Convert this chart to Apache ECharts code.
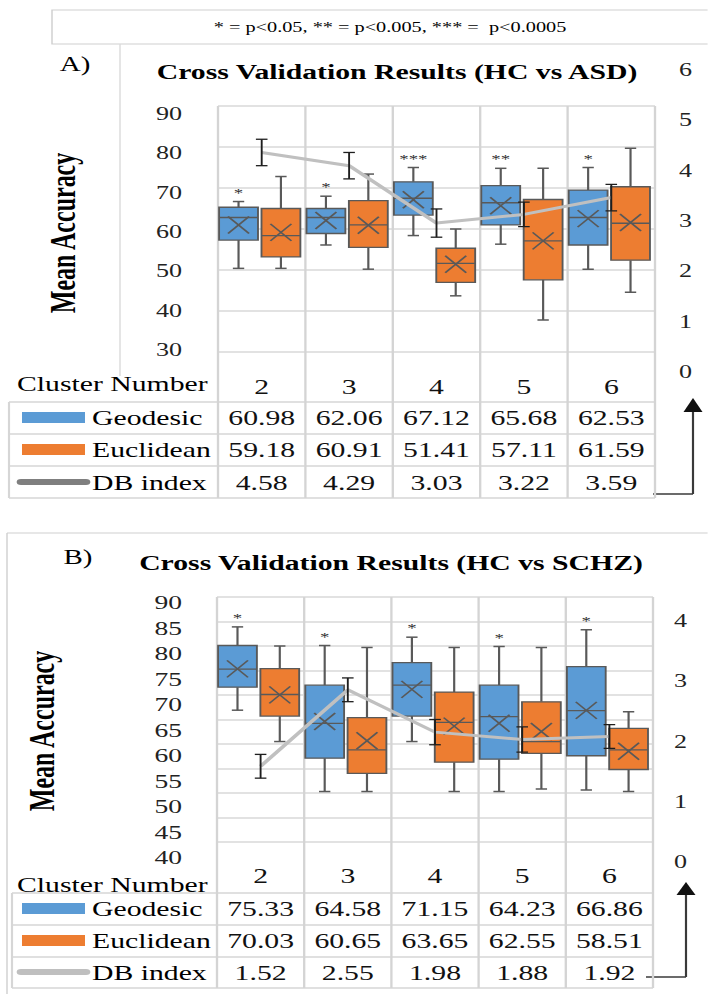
<!DOCTYPE html>
<html>
<head>
<meta charset="utf-8">
<script src="https://cdn.jsdelivr.net/npm/echarts@6/dist/echarts.min.js"></script>
<style>
  html, body { margin: 0; padding: 0; background: #fff; overflow: hidden; }
  #chart { position: absolute; left: 0; top: 0; height: 994px; transform-origin: 0 0; }
</style>
</head>
<body>
<div id="chart"></div>
<script>
// ---------- data ----------
const clusters = ['2', '3', '4', '5', '6'];

// HC vs ASD
const asdGeoMean = [60.98, 62.06, 67.12, 65.68, 62.53];
const asdEucMean = [59.18, 60.91, 51.41, 57.11, 61.59];
const asdDB = [4.58, 4.29, 3.03, 3.22, 3.59];
const asdDBErr = [0.29, 0.29, 0.31, 0.27, 0.29];
// box statistics: [min, q1, median, q3, max]
const asdGeoBox = [
  [50.4, 57.3, 62.8, 65.3, 66.7],
  [56.1, 58.9, 62.8, 65.0, 68.0],
  [58.4, 63.4, 67.5, 71.5, 75.0],
  [56.3, 61.0, 66.4, 70.6, 74.8],
  [50.2, 56.1, 62.8, 69.5, 75.0]
];
const asdEucBox = [
  [50.4, 53.2, 58.4, 65.0, 72.8],
  [50.2, 55.5, 61.0, 66.9, 73.4],
  [43.7, 47.0, 51.6, 55.3, 60.0],
  [37.8, 47.6, 57.1, 67.2, 74.8],
  [44.6, 52.4, 61.4, 70.3, 79.7]
];
const asdSig = ['*', '*', '***', '**', '*'];
const asdAccTicks = { min: 30, max: 90, step: 10 };
const asdDBTicks = { min: 0, max: 6, step: 1 };

// HC vs SCHZ
const schzGeoMean = [75.33, 64.58, 71.15, 64.23, 66.86];
const schzEucMean = [70.03, 60.65, 63.65, 62.55, 58.51];
const schzDB = [1.52, 2.55, 1.98, 1.88, 1.92];
const schzDBErr = [0.16, 0.16, 0.17, 0.17, 0.16];
const schzGeoBox = [
  [66.9, 71.6, 75.3, 80.1, 83.9],
  [50.3, 57.1, 64.2, 72.0, 80.1],
  [60.5, 65.7, 72.0, 76.6, 81.8],
  [50.3, 56.9, 65.6, 72.0, 79.9],
  [50.6, 57.6, 66.8, 75.8, 83.3]
];
const schzEucBox = [
  [60.5, 65.7, 70.1, 75.4, 80.0],
  [50.3, 54.0, 58.8, 65.4, 79.7],
  [50.3, 56.3, 64.4, 70.6, 79.7],
  [50.8, 58.1, 60.5, 68.6, 79.7],
  [50.3, 54.8, 58.8, 63.2, 66.6]
];
const schzSig = ['*', '*', '*', '*', '*'];
const schzAccTicks = { min: 40, max: 90, step: 5 };
const schzDBTicks = { min: 0, max: 4, step: 1 };

const rowNames = ['Geodesic', 'Euclidean', 'DB index'];

// ---------- look ----------
const S = 1.45;                // the figure is drawn with a horizontal stretch
const X = v => v / S;          // layout x (final pixels) -> chart units
const SERIF = '"Liberation Serif","Times New Roman",serif';
const BLUE = '#5b9bd5';
const ORANGE = '#ed7d31';
const INK = '#595959';
const GRID = '#d9d9d9';

const dom = document.getElementById('chart');
dom.style.width = X(708) + 'px';
dom.style.transform = 'scaleX(' + S + ')';

const panels = [
  {
    tag: 'A)', title: 'Cross Validation Results (HC vs ASD)',
    geoBox: asdGeoBox, eucBox: asdEucBox, geoMean: asdGeoMean, eucMean: asdEucMean,
    db: asdDB, dbErr: asdDBErr, sig: asdSig, acc: asdAccTicks, dbTicks: asdDBTicks,
    plot: { l: 218, r: 655, t: 106, b: 352 }, dbScale: [0.2, 5.6],
    accLab: { x: 182, t: 114, b: 350, size: 18 },
    dbLab: { x: 679, t: 70, b: 372, size: 18 },
    catMargin: 25, tagPos: [75, 64], titlePos: [397, 72], yNamePos: [63, 233],
    headerY: 384, rows: [418, 450, 483], lines: [402, 434, 466, 498], tableL: 9,
    dbSwatch: '#7f7f7f',
    arrow: { x: 693, tip: 398, base: 412, bottom: 494, from: 653 }
  },
  {
    tag: 'B)', title: 'Cross Validation Results (HC vs SCHZ)',
    geoBox: schzGeoBox, eucBox: schzEucBox, geoMean: schzGeoMean, eucMean: schzEucMean,
    db: schzDB, dbErr: schzDBErr, sig: schzSig, acc: schzAccTicks, dbTicks: schzDBTicks,
    plot: { l: 217, r: 653, t: 597, b: 842 }, dbScale: [0.5, 3.8],
    accLab: { x: 182, t: 603, b: 858, size: 19 },
    dbLab: { x: 674, t: 621, b: 862, size: 18 },
    catMargin: 24, tagPos: [78, 557], titlePos: [391, 563], yNamePos: [42, 731],
    headerY: 885, rows: [909, 941, 973], lines: [893, 925, 957, 988], tableL: 12,
    dbSwatch: '#bfbfbf',
    arrow: { x: 686, tip: 882, base: 895, bottom: 977, from: 646 }
  }
];

// ---------- renderers ----------
function boxRenderer(offset, fill, sig) {
  return function (params, api) {
    const i = api.value(0);
    const band = api.size([1, 0])[0];
    const cx = api.coord([i, api.value(3)])[0] + offset * band;
    const w = 0.445 * band;
    const cap = 0.065 * band;
    const y = k => api.coord([i, api.value(k)])[1];
    const yMin = y(1), yQ1 = y(2), yMed = y(3), yQ3 = y(4), yMax = y(5), yMean = y(6);
    const seg = (x1, y1, x2, y2, lw) => ({
      type: 'line', shape: { x1, y1, x2, y2 }, style: { stroke: INK, lineWidth: lw || 1.5 }
    });
    const xh = 0.27 * w, yh = 8.5;
    const children = [
      seg(cx, yQ3, cx, yMax), seg(cx - cap, yMax, cx + cap, yMax),
      seg(cx, yQ1, cx, yMin), seg(cx - cap, yMin, cx + cap, yMin),
      { type: 'rect', shape: { x: cx - w / 2, y: yQ3, width: w, height: yQ1 - yQ3 },
        style: { fill, stroke: INK, lineWidth: 1.3 } },
      seg(cx - w / 2, yMed, cx + w / 2, yMed, 1.3),
      seg(cx - xh, yMean - yh, cx + xh, yMean + yh, 1.4),
      seg(cx - xh, yMean + yh, cx + xh, yMean - yh, 1.4)
    ];
    if (sig) {
      children.push({
        type: 'text', x: cx, y: yMax - 9,
        style: { text: sig[params.dataIndex], fontSize: 13, fontFamily: SERIF, fill: '#333',
                 align: 'center', verticalAlign: 'middle', textAlign: 'center', textVerticalAlign: 'middle' }
      });
    }
    return { type: 'group', children };
  };
}

function errRenderer(params, api) {
  const i = api.value(0), v = api.value(1), e = api.value(2);
  const cx = api.coord([i, v])[0];
  const yHi = api.coord([i, v + e])[1];
  const yLo = api.coord([i, v - e])[1];
  const c = 4;
  const st = { stroke: '#1e1e1e', lineWidth: 1.3 };
  return {
    type: 'group',
    children: [
      { type: 'line', shape: { x1: cx, y1: yHi, x2: cx, y2: yLo }, style: st },
      { type: 'line', shape: { x1: cx - c, y1: yHi, x2: cx + c, y2: yHi }, style: st },
      { type: 'line', shape: { x1: cx - c, y1: yLo, x2: cx + c, y2: yLo }, style: st }
    ]
  };
}

function tableRenderer(P) {
  return function (params, api) {
    const i = api.value(0);
    const band = api.size([1, 0])[0];
    const cx = api.coord([i, P.acc.min])[0];
    const yTop = api.coord([i, P.acc.max])[1];
    const children = [];
    [api.value(1), api.value(2), api.value(3)].forEach((v, k) => {
      children.push({
        type: 'text', x: cx, y: P.rows[k],
        style: { text: v.toFixed(2), fontSize: 20.5, fontFamily: SERIF, fill: '#111',
                 align: 'center', verticalAlign: 'middle', textAlign: 'center', textVerticalAlign: 'middle' }
      });
    });
    const xs = i === 0 ? [cx - band / 2, cx + band / 2] : [cx + band / 2];
    xs.forEach(x => children.push({
      type: 'line', shape: { x1: x, y1: yTop, x2: x, y2: P.lines[3] },
      style: { stroke: '#d4d4d4', lineWidth: 1.6 }
    }));
    return { type: 'group', children };
  };
}

// ---------- option ----------
const option = {
  animation: false,
  backgroundColor: '#fff',
  textStyle: { fontFamily: SERIF },
  grid: [], xAxis: [], yAxis: [], series: [], graphic: []
};

const textEl = (x, y, text, size, extra) => ({
  type: 'text', x: X(x), y, silent: true,
  style: Object.assign({ text, fontSize: size, fontFamily: SERIF, fill: '#000',
    align: 'center', verticalAlign: 'middle', textAlign: 'center', textVerticalAlign: 'middle' }, extra || {})
});
const lineEl = (x1, y1, x2, y2, stroke, lw, cap) => ({
  type: 'line', silent: true,
  shape: { x1: X(x1), y1, x2: X(x2), y2 },
  style: { stroke, lineWidth: lw, lineCap: cap || 'butt' }
});

// note box and panel frames
option.graphic.push(
  { type: 'rect', silent: true, shape: { x: X(52), y: 10, width: X(670), height: 34 },
    style: { fill: 'none', stroke: '#cfcfcf', lineWidth: 1 } },
  textEl(390, 27, '* = p<0.05, ** = p<0.005, *** =  p<0.0005', 14),
  lineEl(120, 44, 120, 376, '#dcdcdc', 1),
  lineEl(7, 533, 712, 533, '#d0d0d0', 1),
  lineEl(7, 533, 7, 994, '#d0d0d0', 1)
);

panels.forEach((P, n) => {
  const g = n * 3, y = n * 4;
  const p = P.plot;
  option.grid.push(
    { left: X(p.l), width: X(p.r - p.l), top: p.t, height: p.b - p.t },
    { left: X(P.accLab.x + 8), width: X(6), top: P.accLab.t, height: P.accLab.b - P.accLab.t },
    { left: X(P.dbLab.x - 15), width: X(6), top: P.dbLab.t, height: P.dbLab.b - P.dbLab.t }
  );
  option.xAxis.push(
    { gridIndex: g, type: 'category', data: clusters,
      axisLine: { show: false }, axisTick: { show: false }, splitLine: { show: false },
      axisLabel: { interval: 0, margin: P.catMargin, fontSize: 20.5, fontFamily: SERIF, color: '#111' } },
    { gridIndex: g + 1, type: 'value', show: false },
    { gridIndex: g + 2, type: 'value', show: false }
  );
  const labelAxis = (gi, pos, t, lab, margin) => ({
    gridIndex: gi, type: 'value', position: pos, min: t.min, max: t.max, interval: t.step,
    axisLine: { show: false }, axisTick: { show: false }, splitLine: { show: false },
    axisLabel: { margin, fontSize: lab.size, fontFamily: SERIF, color: '#222',
                 showMinLabel: true, showMaxLabel: true }
  });
  option.yAxis.push(
    { gridIndex: g, type: 'value', min: P.acc.min, max: P.acc.max, interval: P.acc.step,
      axisLabel: { show: false }, axisLine: { show: false }, axisTick: { show: false },
      splitLine: { lineStyle: { color: GRID, width: 1.5 } } },
    { gridIndex: g, type: 'value', position: 'right', min: P.dbScale[0], max: P.dbScale[1],
      show: false, splitLine: { show: false } },
    labelAxis(g + 1, 'left', P.acc, P.accLab, X(8)),
    labelAxis(g + 2, 'right', P.dbTicks, P.dbLab, X(9))
  );

  option.series.push(
    { type: 'custom', name: 'Geodesic', xAxisIndex: g, yAxisIndex: y, z: 2,
      data: P.geoBox.map((b, i) => [i, ...b, P.geoMean[i]]),
      encode: { x: 0, y: [1, 2, 3, 4, 5, 6] },
      renderItem: boxRenderer(-0.265, BLUE, P.sig) },
    { type: 'custom', name: 'Euclidean', xAxisIndex: g, yAxisIndex: y, z: 2,
      data: P.eucBox.map((b, i) => [i, ...b, P.eucMean[i]]),
      encode: { x: 0, y: [1, 2, 3, 4, 5, 6] },
      renderItem: boxRenderer(0.22, ORANGE, null) },
    { type: 'custom', name: 'table', xAxisIndex: g, yAxisIndex: y, z: 1, silent: true,
      data: clusters.map((c, i) => [i, P.geoMean[i], P.eucMean[i], P.db[i]]),
      encode: { x: 0, y: 1 },
      renderItem: tableRenderer(P) },
    { type: 'line', name: 'DB index', xAxisIndex: g, yAxisIndex: y + 1, z: 3,
      data: P.db, symbol: 'none', lineStyle: { color: '#c0c0c0', width: 3 } },
    { type: 'custom', name: 'DB error', xAxisIndex: g, yAxisIndex: y + 1, z: 4,
      data: P.db.map((v, i) => [i, v, P.dbErr[i]]),
      encode: { x: 0, y: 1 },
      renderItem: errRenderer }
  );

  // panel texts
  option.graphic.push(
    textEl(P.tagPos[0], P.tagPos[1], P.tag, 20),
    textEl(P.titlePos[0], P.titlePos[1], P.title, 20.5, { fontWeight: 'bold' }),
    Object.assign(textEl(P.yNamePos[0], P.yNamePos[1], 'Mean Accuracy', 24, { fontWeight: 'bold' }),
                  { rotation: Math.PI / 2 }),
    textEl(17, P.headerY, 'Cluster Number', 20.5, { align: 'left', textAlign: 'left' })
  );
  // table frame
  P.lines.forEach(ly => option.graphic.push(lineEl(P.tableL, ly, p.r, ly, '#d6d6d6', 1.5)));
  option.graphic.push(lineEl(P.tableL, P.lines[0], P.tableL, P.lines[3], '#d6d6d6', 1.5));
  // row legend keys and names
  rowNames.forEach((name, k) => {
    option.graphic.push(textEl(92, P.rows[k], name, 20.5, { align: 'left', textAlign: 'left' }));
  });
  option.graphic.push(
    { type: 'rect', silent: true, shape: { x: X(22), y: P.rows[0] - 6, width: X(63), height: 11 },
      style: { fill: BLUE } },
    { type: 'rect', silent: true, shape: { x: X(22), y: P.rows[1] - 6, width: X(63), height: 11 },
      style: { fill: ORANGE } },
    lineEl(21, P.rows[2] - 1, 86, P.rows[2] - 1, P.dbSwatch, 6, 'round')
  );
  // arrow pointing to the DB index axis
  const a = P.arrow;
  option.graphic.push(
    lineEl(a.from, a.bottom, a.x, a.bottom, '#3a3a3a', 1.5),
    lineEl(a.x, a.bottom, a.x, a.base, '#3a3a3a', 1.5),
    { type: 'polygon', silent: true,
      shape: { points: [[X(a.x), a.tip], [X(a.x - 9.5), a.base], [X(a.x + 9.5), a.base]] },
      style: { fill: '#111' } }
  );
});

const chart = echarts.init(dom, null, { renderer: 'svg' });
chart.setOption(option);
</script>
</body>
</html>
